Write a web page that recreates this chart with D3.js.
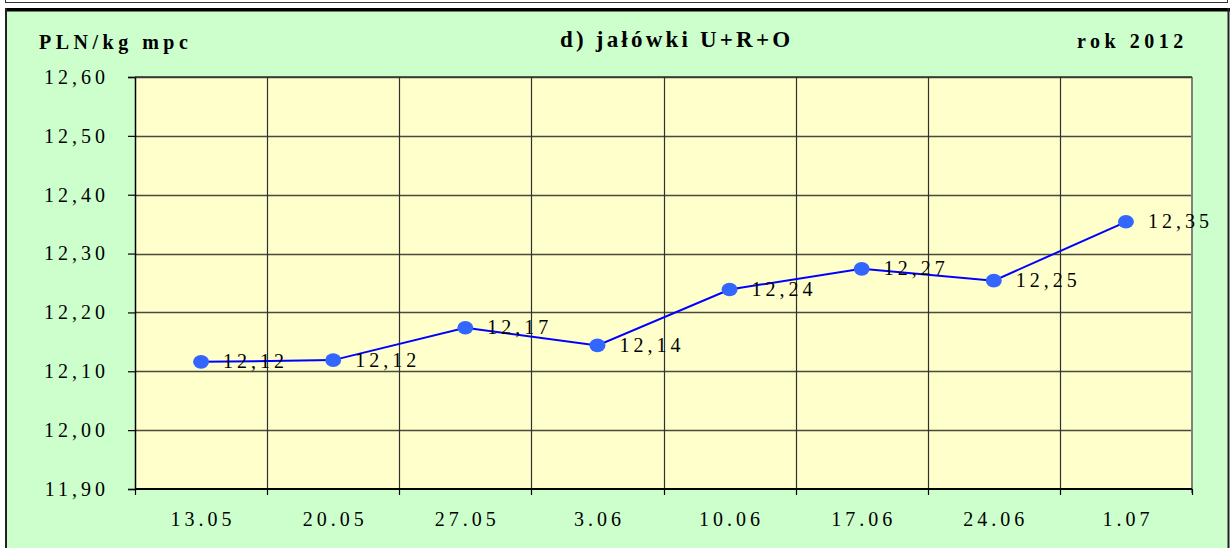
<!DOCTYPE html>
<html>
<head>
<meta charset="utf-8">
<script src="https://cdn.jsdelivr.net/npm/d3@7"></script>
<style>
  body { margin: 0; background: #fff; }
  svg text { font-family: "Liberation Serif", "Times New Roman", serif !important; }
</style>
</head>
<body>
<script>
// notowania cen - jałówki U+R+O
var dates = ["13.05", "20.05", "27.05", "3.06", "10.06", "17.06", "24.06", "1.07"];
var prices = [12.116, 12.119, 12.174, 12.144, 12.239, 12.274, 12.254, 12.354];
var yTicks = [11.9, 12.0, 12.1, 12.2, 12.3, 12.4, 12.5, 12.6];

var width = 1230, height = 548;
var plot = { left: 135, right: 1192, top: 77, bottom: 489 };

var pl = d3.formatLocale({ decimal: ",", thousands: " ", grouping: [3], currency: ["", " zł"] });
var fmt = pl.format(".2f");

var svg = d3.select("body").append("svg")
    .attr("width", width)
    .attr("height", height);

// outer frame
svg.append("rect").attr("x", 5.5).attr("y", -2).attr("width", 1222).attr("height", 4.5)
    .attr("fill", "none").attr("stroke", "#333").attr("stroke-width", 1);
svg.append("rect").attr("x", 5).attr("y", 8).attr("width", 1224).attr("height", 560)
    .attr("fill", "#ccffcc");
svg.append("line").attr("x1", 5).attr("x2", 1230).attr("y1", 9.75).attr("y2", 9.75)
    .attr("stroke", "#000").attr("stroke-width", 3.5);
svg.append("line").attr("x1", 6).attr("x2", 6).attr("y1", 8).attr("y2", height)
    .attr("stroke", "#222").attr("stroke-width", 2);
svg.append("line").attr("x1", 1228.5).attr("x2", 1228.5).attr("y1", 8).attr("y2", height)
    .attr("stroke", "#222").attr("stroke-width", 2);

var x = d3.scaleBand()
    .domain(dates)
    .range([plot.left, plot.right])
    .padding(0);

var y = d3.scaleLinear()
    .domain([11.9, 12.6])
    .range([plot.bottom, plot.top]);

// plot area
svg.append("rect")
    .attr("x", plot.left).attr("y", plot.top)
    .attr("width", plot.right - plot.left).attr("height", plot.bottom - plot.top)
    .attr("fill", "#ffffcc");

// horizontal grid
svg.append("g").selectAll("line")
    .data(yTicks.slice(1))
    .enter().append("line")
    .attr("x1", plot.left).attr("x2", plot.right)
    .attr("y1", function (d) { return Math.round(y(d)) + 0.5; })
    .attr("y2", function (d) { return Math.round(y(d)) + 0.5; })
    .attr("stroke", "#4a4a3a").attr("stroke-width", 1.3);

// vertical grid
svg.append("g").selectAll("line")
    .data(dates.slice(1))
    .enter().append("line")
    .attr("x1", function (d) { return Math.round(x(d)) + 0.5; })
    .attr("x2", function (d) { return Math.round(x(d)) + 0.5; })
    .attr("y1", plot.top).attr("y2", plot.bottom)
    .attr("stroke", "#303030").attr("stroke-width", 1.2);

// right border
svg.append("line")
    .attr("x1", plot.right).attr("x2", plot.right)
    .attr("y1", plot.top).attr("y2", plot.bottom + 4)
    .attr("stroke", "#808080").attr("stroke-width", 2);

// y axis
var yAxis = d3.axisLeft(y)
    .tickValues(yTicks)
    .tickSize(7)
    .tickPadding(19)
    .tickFormat(fmt);

var gy = svg.append("g")
    .attr("transform", "translate(" + plot.left + ",0)")
    .call(yAxis);
gy.select(".domain").attr("stroke", "#000").attr("stroke-width", 1.5);
gy.selectAll(".tick line").attr("stroke", "#000").attr("stroke-width", 1.2);
gy.selectAll(".tick text")
    .attr("font-size", 20)
    .attr("letter-spacing", "4px")
    .attr("fill", "#000");

// x axis: labels at band centres, ticks at band edges
var xAxis = d3.axisBottom(x)
    .tickSize(0)
    .tickPadding(23);

var gx = svg.append("g")
    .attr("transform", "translate(0," + plot.bottom + ")")
    .call(xAxis);
gx.select(".domain").remove();
gx.selectAll(".tick text")
    .attr("font-size", 20)
    .attr("letter-spacing", "4px")
    .attr("dx", "2px")
    .attr("fill", "#000");

var edges = dates.map(function (d) { return x(d); }).concat([plot.right]);
svg.append("g").selectAll("line")
    .data(edges)
    .enter().append("line")
    .attr("x1", function (d) { return Math.round(d) + 0.5; })
    .attr("x2", function (d) { return Math.round(d) + 0.5; })
    .attr("y1", plot.bottom).attr("y2", plot.bottom + 6)
    .attr("stroke", "#000").attr("stroke-width", 1.2);
svg.append("line")
    .attr("x1", plot.left).attr("x2", plot.right)
    .attr("y1", plot.bottom).attr("y2", plot.bottom)
    .attr("stroke", "#000").attr("stroke-width", 2);
svg.append("line")
    .attr("x1", plot.left).attr("x2", plot.right)
    .attr("y1", plot.top).attr("y2", plot.top)
    .attr("stroke", "#333").attr("stroke-width", 1.5);

// series
var pts = dates.map(function (d, i) { return { date: d, value: prices[i] }; });
var cx = function (d) { return x(d.date) + x.bandwidth() / 2; };

svg.append("path")
    .datum(pts)
    .attr("fill", "none")
    .attr("stroke", "#0000ff")
    .attr("stroke-width", 2)
    .attr("d", d3.line().x(cx).y(function (d) { return y(d.value); }));

svg.append("g").selectAll("ellipse")
    .data(pts)
    .enter().append("ellipse")
    .attr("cx", cx)
    .attr("cy", function (d) { return y(d.value); })
    .attr("rx", 8).attr("ry", 6.8)
    .attr("fill", "#3366ff");

svg.append("g").selectAll("text")
    .data(pts)
    .enter().append("text")
    .attr("x", function (d) { return cx(d) + 22; })
    .attr("y", function (d) { return y(d.value) + 6.5; })
    .attr("font-size", 20)
    .attr("letter-spacing", "4px")
    .attr("fill", "#000")
    .text(function (d) { return fmt(d.value); });

// titles
svg.append("text")
    .attr("x", 39).attr("y", 49)
    .attr("font-size", 20).attr("font-weight", "bold")
    .attr("letter-spacing", "4.5px")
    .text("PLN/kg mpc");

svg.append("text")
    .attr("x", 560).attr("y", 47)
    .attr("font-size", 23).attr("font-weight", "bold")
    .attr("letter-spacing", "3.2px")
    .text("d) jałówki U+R+O");

svg.append("text")
    .attr("x", 1077).attr("y", 48)
    .attr("font-size", 20).attr("font-weight", "bold")
    .attr("letter-spacing", "4.5px")
    .text("rok 2012");
</script>
</body>
</html>
